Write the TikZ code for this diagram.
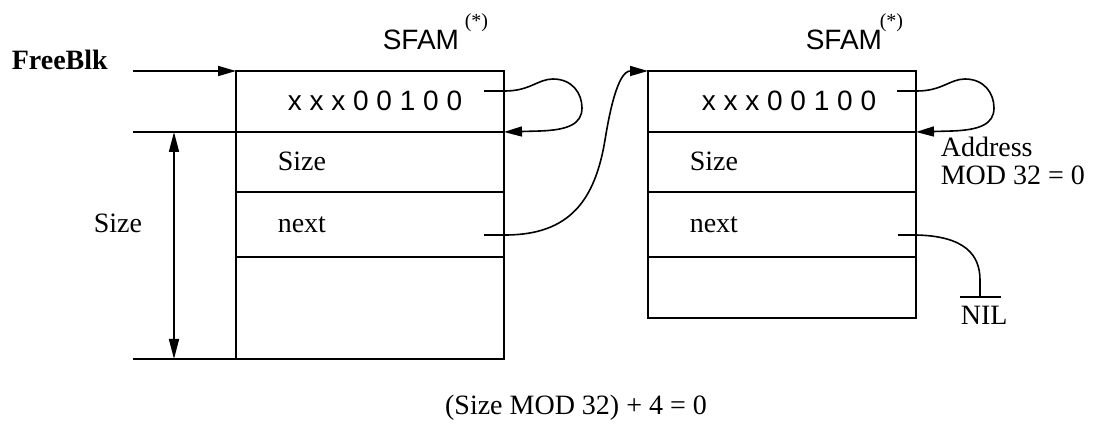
\documentclass[tikz,border=0pt]{standalone}
\usepackage{fontspec}
\setmainfont{Liberation Serif}
\setsansfont{Liberation Sans}
\usetikzlibrary{arrows.meta}
\begin{document}
\begin{tikzpicture}[x=1pt,y=-1pt, line width=1.6pt,
  cell/.style={draw, rectangle, minimum width=268pt, inner sep=0pt, outer sep=0pt, anchor=north west},
  serif/.style={font=\fontsize{28}{32}\selectfont, inner sep=0pt, anchor=base west},
  sans/.style={font=\sffamily\fontsize{28}{32}\selectfont, inner sep=0pt, anchor=base west},
  supx/.style={font=\fontsize{20}{24}\selectfont, inner sep=0pt, anchor=base west},
  tip/.style={-{Triangle[length=18pt,width=10pt]}},
  dimarrow/.style={{Triangle[length=20pt,width=10pt]}-{Triangle[length=20pt,width=10pt]}},
]
\useasboundingbox (0,0) rectangle (1093,430);
% left block
\node[cell, minimum height=61pt] (L1) at (236,71) {};
\node[cell, minimum height=60pt] (L2) at (236,132) {};
\node[cell, minimum height=65pt] (L3) at (236,192) {};
\node[cell, minimum height=102pt] (L4) at (236,257) {};
% right block
\node[cell, minimum height=61pt] (R1) at (648,71) {};
\node[cell, minimum height=60pt] (R2) at (648,132) {};
\node[cell, minimum height=65pt] (R3) at (648,192) {};
\node[cell, minimum height=61pt] (R4) at (648,257) {};
% texts
\node[serif, font=\bfseries\fontsize{28}{32}\selectfont] (fb) at (11,70) {FreeBlk};
\node[sans] (sfamL) at (382,50) {SFAM};
\node[supx] (supL) at (464,28) {(*)};
\node[sans] (sfamR) at (805,50) {SFAM};
\node[supx] (supR) at (879,28) {(*)};
\node[sans] (xL) at (287,111) {x x x 0 0 1 0 0};
\node[sans] (xR) at (701,111) {x x x 0 0 1 0 0};
\node[serif] (sizeL) at (277,171) {Size};
\node[serif] (sizeR) at (689,171) {Size};
\node[serif] (nextL) at (277,233) {next};
\node[serif] (nextR) at (689,233) {next};
\node[serif] (sizelab) at (93,233) {Size};
\node[serif] (addr) at (940,157) {Address};
\node[serif] (mod) at (940,185) {MOD 32 = 0};
\node[serif, anchor=base] (formula) at (576,414) {(Size MOD 32) + 4 = 0};
\node[serif] (nil) at (960,325) {NIL};
% coordinates
\coordinate (fbs) at (133,71);
\coordinate (extT) at (133,132);
\coordinate (extB) at (133,359);
\coordinate (dimT) at (174,132);
\coordinate (dimB) at (174,359);
\coordinate (L1s) at (484,91);
\coordinate (R1s) at (897,91);
\coordinate (Lns) at (484,235);
\coordinate (Rns) at (898,235);
\coordinate (nilT) at (980,297);
\coordinate (nilA) at (960,297);
\coordinate (nilB) at (1001,297);
% FreeBlk pointer
\draw[tip] (fbs) -- (L1.north west);
% extension lines and dimension
\draw (extT) -- (L2.north west);
\draw (extB) -- (L4.south west);
\draw[dimarrow] (dimT) -- (dimB);
% self loops
\draw[tip] (L1s) -- (505,91) .. controls (530,91) and (538,79) .. (553,79)
  .. controls (572,79) and (582,93) .. (582,108)
  .. controls (582,124) and (568,130) .. (540,131) -- (L2.north east);
\draw[tip] (R1s) -- (917,91) .. controls (942,91) and (950,79) .. (965,79)
  .. controls (984,79) and (994,93) .. (994,108)
  .. controls (994,124) and (980,130) .. (952,131) -- (R2.north east);
% next pointer
\draw[tip] (Lns) -- (505,235) .. controls (570,235) and (595,200) .. (605,140)
  .. controls (615,78) and (625,71) .. (R1.north west);
% NIL
\draw (Rns) -- (916,235) .. controls (965,236) and (980,255) .. (980,280) -- (nilT);
\draw (nilA) -- (nilB);
\end{tikzpicture}
\end{document}
